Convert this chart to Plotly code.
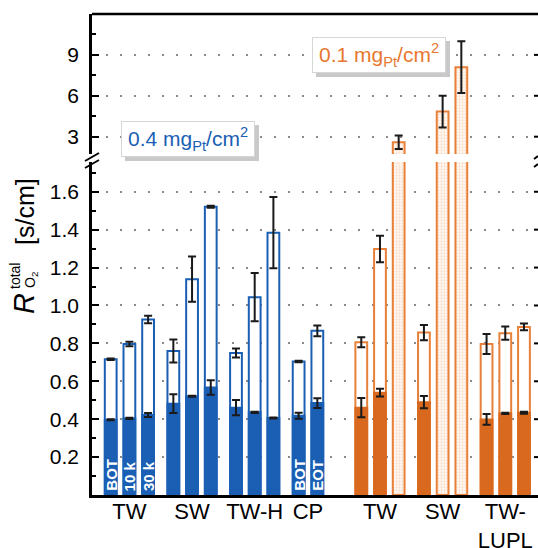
import plotly.graph_objects as go

# ---------------- data ----------------
groups = ["TW", "SW", "TW-H", "CP", "TW", "SW", "TW-<br>LUPL"]
group_sizes = [3, 3, 3, 2, 3, 3, 3]
group_loading = ["0.4", "0.4", "0.4", "0.4", "0.1", "0.1", "0.1"]

blue_total = [0.716, 0.797, 0.926, 0.760, 1.139, 1.521, 0.749, 1.044, 1.384, 0.704, 0.866]
blue_total_err = [0.004, 0.012, 0.020, 0.061, 0.120, 0.005, 0.024, 0.127, 0.188, 0.004, 0.028]
blue_bottom = [0.397, 0.404, 0.422, 0.482, 0.521, 0.567, 0.461, 0.436, 0.406, 0.418, 0.485]
blue_bottom_err = [0.003, 0.003, 0.010, 0.050, 0.003, 0.038, 0.040, 0.003, 0.003, 0.016, 0.026]
blue_bar_text = ["BOT", "10 k", "30 k", "", "", "", "", "", "", "BOT", "EOT"]

orange_total = [0.806, 1.298, 2.59, 0.857, 4.84, 8.10, 0.797, 0.854, 0.887]
orange_total_err = [0.026, 0.070, 0.49, 0.040, 1.16, 1.90, 0.053, 0.035, 0.018]
orange_bottom = [0.461, 0.540, None, 0.490, None, None, 0.399, 0.431, 0.434]
orange_bottom_err = [0.051, 0.020, None, 0.032, None, None, 0.029, 0.003, 0.005]

lower_ticks = [0.2, 0.4, 0.6, 0.8, 1.0, 1.2, 1.4, 1.6]
upper_ticks = [3, 6, 9]

# ---------------- styles ----------------
BLUE = "#1a5fb4"
ORANGE = "#d9691e"
ORANGE_LINE = "#e8803a"
ERR = "#1a1a1a"
FONT = "Liberation Sans, Arial, sans-serif"

W, H = 538, 548
L, R, T, B = 92, 0, 14, 53
PW, PH = W - L - R, H - T - B


def px_x(px):
    return (px - L) / PW


def px_y(py):
    return (H - B - py) / PH


# bar positions (slot 1 per bar, gap between groups, larger gap between loadings)
positions = []
centers = []
pos = 0.0
prev = None
for g, n in enumerate(group_sizes):
    if prev is not None:
        pos += 0.35
        if group_loading[g] != prev:
            pos += 1.0
    xs = [pos + i for i in range(n)]
    positions.append(xs)
    centers.append(sum(xs) / n)
    pos = xs[-1] + 1
    prev = group_loading[g]

blue_x = [x for g, xs in enumerate(positions) if group_loading[g] == "0.4" for x in xs]
orange_x = [x for g, xs in enumerate(positions) if group_loading[g] == "0.1" for x in xs]

BW = 0.63
err_style = dict(type="data", color=ERR, thickness=2, width=4)

fig = go.Figure()

# blue: outline totals, then filled bottoms
fig.add_trace(go.Bar(x=blue_x, y=blue_total, width=BW,
                     marker=dict(color="white", line=dict(color=BLUE, width=2)),
                     error_y=dict(array=blue_total_err, **err_style), yaxis="y"))
fig.add_trace(go.Bar(x=blue_x, y=blue_bottom, width=BW,
                     marker=dict(color=BLUE, line=dict(color=BLUE, width=2)),
                     error_y=dict(array=blue_bottom_err, **err_style), yaxis="y"))

# orange
ox_open = [x for x, b in zip(orange_x, orange_bottom) if b is not None]
oy_open = [t for t, b in zip(orange_total, orange_bottom) if b is not None]
oe_open = [e for e, b in zip(orange_total_err, orange_bottom) if b is not None]
ob = [b for b in orange_bottom if b is not None]
obe = [e for e in orange_bottom_err if e is not None]
ox_h = [x for x, b in zip(orange_x, orange_bottom) if b is None]
oy_h = [t for t, b in zip(orange_total, orange_bottom) if b is None]
oe_h = [e for e, b in zip(orange_total_err, orange_bottom) if b is None]

fig.add_trace(go.Bar(x=ox_open, y=oy_open, width=BW,
                     marker=dict(color="white", line=dict(color=ORANGE_LINE, width=2)),
                     error_y=dict(array=oe_open, **err_style), yaxis="y"))
fig.add_trace(go.Bar(x=ox_open, y=ob, width=BW,
                     marker=dict(color=ORANGE, line=dict(color=ORANGE, width=2)),
                     error_y=dict(array=obe, **err_style), yaxis="y"))
hatch = dict(color="white", line=dict(color=ORANGE_LINE, width=2),
             pattern=dict(shape=".", fgcolor="#f4c3a2", bgcolor="#fffaf6", size=3, solidity=0.45))
for ax in ["y", "y2"]:
    fig.add_trace(go.Bar(x=ox_h, y=oy_h, width=BW, marker=hatch,
                         error_y=dict(array=oe_h, **err_style) if ax == "y2" else None,
                         yaxis=ax))

grid = dict(showgrid=True, gridcolor="#8a8a8a", gridwidth=1.5, griddash="2px,12px")
yax_common = dict(showline=True, linecolor="black", linewidth=2.5, ticks="inside",
                  ticklen=7, tickwidth=2, tickcolor="black", zeroline=False,
                  ticklabelstandoff=6, automargin=False,
                  tickfont=dict(family=FONT, size=21, color="black"), **grid)

fig.update_layout(
    width=W, height=H, margin=dict(l=L, r=R, t=T, b=B),
    paper_bgcolor="white", plot_bgcolor="white", showlegend=False,
    barmode="overlay", font=dict(family=FONT),
    xaxis=dict(range=[-1.0, 22.85], tickvals=centers, ticktext=groups, ticks="",
               showline=True, linecolor="black", linewidth=2.5, showgrid=False,
               zeroline=False, anchor="y", ticklabelstandoff=-5, automargin=False,
               tickfont=dict(family=FONT, size=22, color="black")),
    yaxis=dict(domain=[0, px_y(162)], range=[0, 1.757], tickvals=lower_ticks,
               ticktext=[f"{v:.1f}" for v in lower_ticks],
               minor=dict(dtick=0.1, tick0=0, ticks="inside", ticklen=4, tickwidth=2,
                          tickcolor="black", showgrid=False),
               **yax_common),
    yaxis2=dict(domain=[px_y(154), 1], range=[1.73, 12.0], tickvals=upper_ticks,
                minor=dict(dtick=1.5, tick0=0, ticks="inside", ticklen=4, tickwidth=2,
                           tickcolor="black", showgrid=False),
                anchor="x", **yax_common),
)

shapes = []
# top frame line
shapes.append(dict(type="line", xref="paper", yref="paper", x0=0, x1=1, y0=1, y1=1,
                   line=dict(color="black", width=2.5)))
# right side ticks
for v in lower_ticks:
    shapes.append(dict(type="line", xref="paper", yref="y", x0=px_x(534), x1=1, y0=v, y1=v,
                       line=dict(color="black", width=2)))
for v in upper_ticks:
    shapes.append(dict(type="line", xref="paper", yref="y2", x0=px_x(534), x1=1, y0=v, y1=v,
                       line=dict(color="black", width=2)))
# break marks on left axis
for dy in (0, 7):
    shapes.append(dict(type="line", xref="paper", yref="paper",
                       x0=px_x(85), y0=px_y(161 + dy), x1=px_x(99), y1=px_y(153 + dy),
                       line=dict(color="black", width=2)))
# break marks on right
for dy in (0, 8):
    shapes.append(dict(type="line", xref="paper", yref="paper",
                       x0=px_x(534), y0=px_y(159 + dy), x1=1, y1=px_y(156 + dy),
                       line=dict(color="black", width=2)))

annotations = []
# label boxes with shadows
boxes = [((121, 121, 255, 157), "0.4 mg<sub>Pt</sub>/cm<sup>2</sup>", BLUE),
         ((312, 37, 446, 73), "0.1 mg<sub>Pt</sub>/cm<sup>2</sup>", "#e8782f")]
for (x0, y0, x1, y1), txt, col in boxes:
    shapes.append(dict(type="rect", xref="paper", yref="paper", layer="above",
                       x0=px_x(x0 + 4), x1=px_x(x1 + 4), y0=px_y(y1 + 4), y1=px_y(y0 + 4),
                       fillcolor="#c9c9c9", line=dict(width=0)))
    annotations.append(dict(xref="paper", yref="paper", x=px_x((x0 + x1) / 2),
                            y=px_y((y0 + y1) / 2), text=txt, showarrow=False,
                            font=dict(family=FONT, size=21, color=col),
                            bgcolor="white", bordercolor="#d6d6d6", borderwidth=1,
                            borderpad=0, width=x1 - x0 - 2, height=y1 - y0 - 2,
                            xanchor="center", yanchor="middle"))

# white labels in bars
for x, t in zip(blue_x, blue_bar_text):
    if t:
        annotations.append(dict(x=x, y=0, xref="x", yref="y", text=f"<b>{t}</b>",
                                textangle=-90, showarrow=False, yanchor="bottom",
                                xanchor="center", yshift=2,
                                font=dict(family=FONT, size=15, color="white")))

# y-axis title pieces
title_parts = [
    (24, 304, "<i>R</i>", 29),
    (15, 276, "total", 14),
    (31, 280, "O<sub>2</sub>", 14),
    (25, 212, "[s/cm]", 25),
]
for xp, yp, txt, fs in title_parts:
    annotations.append(dict(xref="paper", yref="paper", x=px_x(xp), y=px_y(yp), text=txt,
                            textangle=-90, showarrow=False, xanchor="center",
                            yanchor="middle",
                            font=dict(family=FONT, size=fs, color="black")))

fig.update_layout(shapes=shapes, annotations=annotations)
fig.write_html("out.html")
